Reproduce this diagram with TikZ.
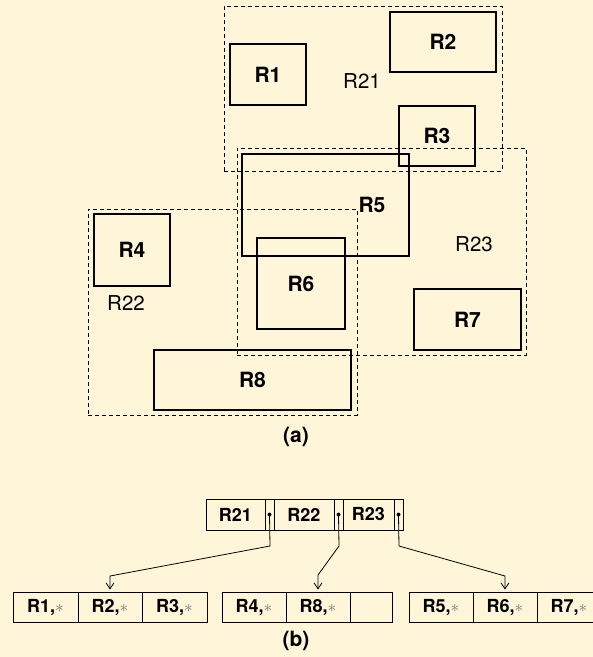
\documentclass[tikz,border=0pt]{standalone}
\usepackage{fontspec}
\setmainfont{TeX Gyre Heros}
\usetikzlibrary{arrows.meta}
\definecolor{bg}{HTML}{FFF6DA}
\tikzset{
  rbox/.style={draw, line width=1.8pt, inner sep=0pt, font=\fontsize{21}{21}\selectfont\bfseries},
  mbr/.style={draw, dashed, dash pattern=on 4pt off 3pt, line width=0.7pt, inner sep=0pt},
  mlabel/.style={font=\fontsize{20.5}{20.5}\selectfont},
  cell/.style={draw, line width=0.9pt, inner sep=0pt, minimum height=30pt, font=\fontsize{18}{18}\selectfont\bfseries},
  ptrcell/.style={draw, line width=0.9pt, inner sep=0pt, minimum height=31pt, minimum width=9pt},
  capt/.style={font=\fontsize{21}{21}\selectfont\bfseries},
  ptr/.style={line width=0.8pt, -{Straight Barb[length=6pt,width=8pt]}, shorten >=2pt},
  dotm/.style={circle, fill, inner sep=0pt, minimum size=4pt}
}
\newcommand{\ent}[1]{#1,\textcolor{black!55}{$\ast$}}
\begin{document}
\begin{tikzpicture}[x=1pt,y=-1pt]
\fill[bg] (0,0) rectangle (593,657);
\useasboundingbox (0,0) rectangle (593,657);
% MBRs (dashed)
\node[mbr, minimum width=278pt, minimum height=165pt] (m21) at (363,88.5) {};
\node[mbr, minimum width=289pt, minimum height=207pt] (m23) at (381.5,251.5) {};
\node[mbr, minimum width=269pt, minimum height=206pt] (m22) at (222.5,312) {};
% rectangles
\node[rbox, minimum width=76pt, minimum height=61pt] (r1) at (268,74.5) {R1};
\node[rbox, minimum width=106pt, minimum height=60pt] (r2) at (443,42) {R2};
\node[rbox, minimum width=76pt, minimum height=60pt] (r3) at (437,136) {R3};
\node[rbox, minimum width=167pt, minimum height=102pt] (r5) at (325.5,205) {};
\node[rbox, draw=none] (r5l) at (372,205) {R5};
\node[rbox, minimum width=76pt, minimum height=72pt] (r4) at (132,250) {R4};
\node[rbox, minimum width=88pt, minimum height=91pt] (r6) at (301,283.5) {R6};
\node[rbox, minimum width=107pt, minimum height=61pt] (r7) at (467.5,319.5) {R7};
\node[rbox, minimum width=197pt, minimum height=60pt] (r8) at (252.5,380) {R8};
% MBR labels
\node[mlabel] (l21) at (362,81) {R21};
\node[mlabel] (l22) at (126,303) {R22};
\node[mlabel] (l23) at (474,244) {R23};
\node[capt] (capa) at (296,437) {(a)};
% root node
\node[cell, minimum height=31pt, minimum width=59pt] (c21) at (235.5,514.5) {R21};
\node[ptrcell] (q21) at (269.5,514.5) {};
\node[cell, minimum height=31pt, minimum width=60pt] (c22) at (304,514.5) {R22};
\node[ptrcell] (q22) at (338.5,514.5) {};
\node[cell, minimum height=31pt, minimum width=51pt] (c23) at (368.5,514.5) {R23};
\node[ptrcell] (q23) at (398.5,514.5) {};
\node[dotm] (d1) at (q21) {};
\node[dotm] (d2) at (q22) {};
\node[dotm] (d3) at (q23) {};
% leaves
\node[cell, minimum width=65pt] (a1) at (45.5,607) {\ent{R1}};
\node[cell, minimum width=64pt] (a2) at (110,607) {\ent{R2}};
\node[cell, minimum width=65pt] (a3) at (174.5,607) {\ent{R3}};
\node[cell, minimum width=64pt] (b1) at (254,607) {\ent{R4}};
\node[cell, minimum width=64pt] (b2) at (318,607) {\ent{R8}};
\node[cell, minimum width=42pt] (b3) at (371,607) {};
\node[cell, minimum width=64pt] (e1) at (441,607) {\ent{R5}};
\node[cell, minimum width=64pt] (e2) at (505,607) {\ent{R6}};
\node[cell, minimum width=64pt] (e3) at (569,607) {\ent{R7}};
% pointers
\coordinate (k1) at (270,546);
\coordinate (j1) at (110,576);
\coordinate (k2) at (339,546);
\coordinate (j2) at (318,575);
\coordinate (k3) at (399,546);
\coordinate (j3) at (505,576);
\draw[ptr] (d1.center) -- (k1) -- (j1) -- (a2.north);
\draw[ptr] (d2.center) -- (k2) -- (j2) -- (b2.north);
\draw[ptr] (d3.center) -- (k3) -- (j3) -- (e2.north);
\node[capt] (capb) at (296,641) {(b)};
\end{tikzpicture}
\end{document}
